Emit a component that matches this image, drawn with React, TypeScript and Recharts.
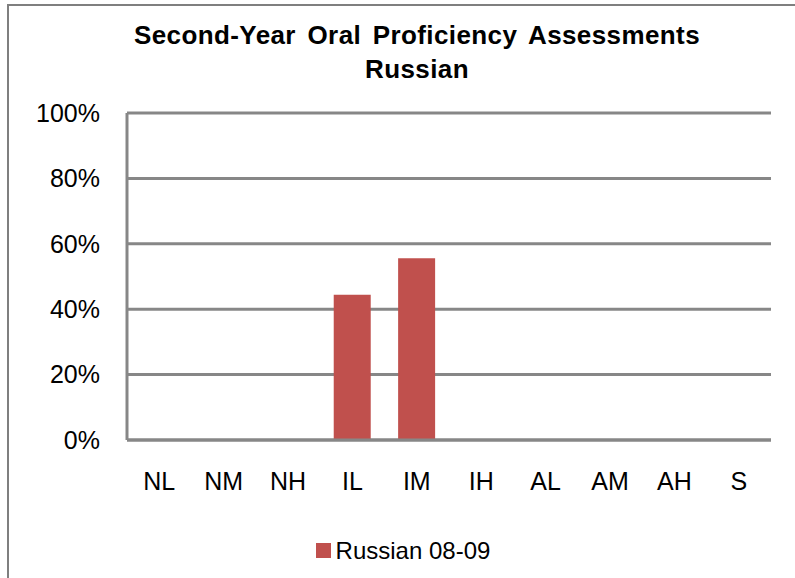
import { BarChart, Bar, XAxis, YAxis, CartesianGrid, Legend } from "recharts";

const levels = ["NL", "NM", "NH", "IL", "IM", "IH", "AL", "AM", "AH", "S"];
const russian0809 = [0, 0, 0, 0.444, 0.556, 0, 0, 0, 0, 0];
const yTicks = [0, 0.2, 0.4, 0.6, 0.8, 1];

const data = levels.map((level, i) => ({ level, value: russian0809[i] }));

const font = "'Liberation Sans', Arial, sans-serif";
const grid = "#878787";
const barColor = "#C0504D";

function LegendBox({ payload }: any) {
  return (
    <div style={{ display: "flex", justifyContent: "center", alignItems: "center", height: 27 }}>
      {(payload || []).map((p: any) => (
        <div key={p.value} style={{ display: "flex", alignItems: "center" }}>
          <span style={{ display: "inline-block", width: 15, height: 15, background: p.color, marginRight: 5 }} />
          <span style={{ fontSize: 24, color: "#000", fontFamily: font }}>{p.value}</span>
        </div>
      ))}
    </div>
  );
}

export default function App() {
  return (
    <div style={{ position: "absolute", left: 0, top: 0, width: 795, height: 578, overflow: "hidden", background: "#fff", fontFamily: font }}>
      <div style={{ position: "absolute", left: 7, top: 4, width: 900, height: 700, border: "2px solid #7f7f7f" }} />
      <div
        style={{
          position: "absolute",
          left: 0,
          width: 834,
          top: 18,
          textAlign: "center",
          fontWeight: "bold",
          fontSize: 26,
          lineHeight: "34px",
          wordSpacing: 4,
          letterSpacing: 0.4,
          color: "#000",
        }}
      >
        Second-Year Oral Proficiency Assessments
        <br />
        Russian
      </div>
      <BarChart
        width={795}
        height={578}
        data={data}
        margin={{ top: 113, right: 24, left: 0, bottom: 0 }}
        barCategoryGap="21%"
        style={{ position: "absolute", left: 0, top: 0 }}
      >
        <CartesianGrid vertical={false} stroke={grid} strokeWidth={3} />
        <XAxis
          dataKey="level"
          height={111}
          axisLine={{ stroke: grid, strokeWidth: 3 }}
          tickLine={false}
          tickMargin={26}
          tick={{ fontSize: 25, fill: "#000", fontFamily: font }}
          interval={0}
        />
        <YAxis
          width={127}
          domain={[0, 1]}
          ticks={yTicks}
          tickFormatter={(v: number) => `${Math.round(v * 100)}%`}
          axisLine={{ stroke: grid, strokeWidth: 3 }}
          tickLine={false}
          tickMargin={21}
          tick={{ fontSize: 25, fill: "#000", fontFamily: font }}
        />
        <Legend
          verticalAlign="bottom"
          content={<LegendBox />}
          wrapperStyle={{ top: 537, left: 0, width: 806 }}
        />
        <Bar dataKey="value" name="Russian 08-09" fill={barColor} isAnimationActive={false} />
      </BarChart>
    </div>
  );
}
